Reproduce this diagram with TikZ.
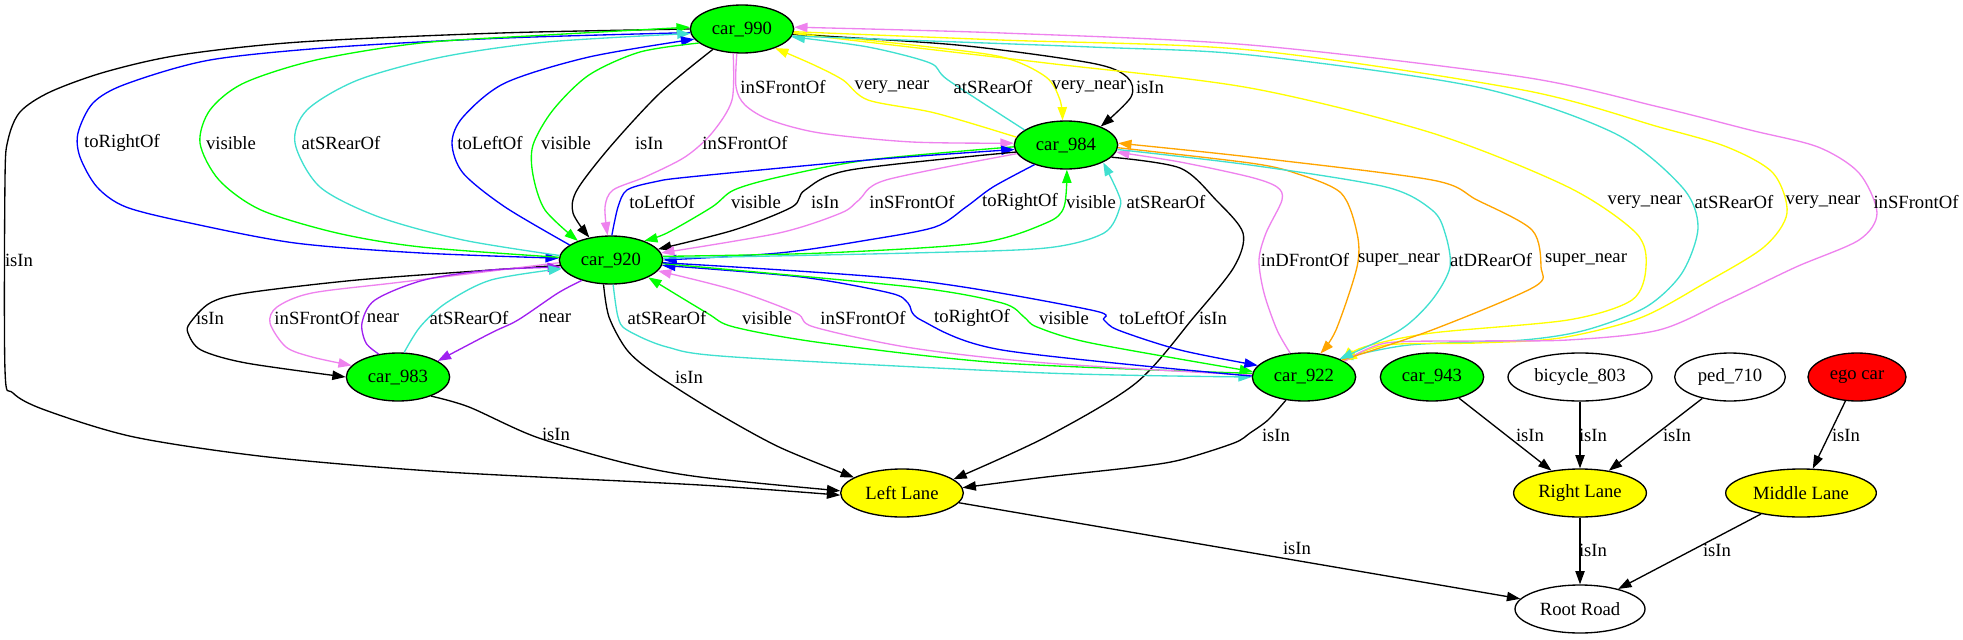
\documentclass[tikz,border=0pt]{standalone}
\usepackage{fontspec}
\setmainfont{Liberation Serif}
\usetikzlibrary{shapes.geometric,arrows.meta}
\definecolor{gvgreen}{RGB}{0,255,0}
\definecolor{gvblue}{RGB}{0,0,255}
\definecolor{gvturq}{RGB}{64,224,208}
\definecolor{gvviolet}{RGB}{238,130,238}
\definecolor{gvyellow}{RGB}{255,255,0}
\definecolor{gvorange}{RGB}{255,165,0}
\definecolor{gvpurple}{RGB}{160,32,240}
\definecolor{gvred}{RGB}{255,0,0}
\begin{document}
\begin{tikzpicture}[x=0.75pt,y=-0.75pt,
 every node/.style={font=\fontsize{14}{16}\selectfont},
 obj/.style={ellipse, draw=black, line width=1pt, minimum height=36pt, inner sep=0pt},
 car/.style={obj, fill=gvgreen, minimum width=77.5pt},
 lane/.style={obj, fill=gvyellow},
 plainobj/.style={obj, fill=white},
 e/.style={line width=1pt, -{Triangle[length=10pt,width=7pt]}},
 lb/.style={inner sep=0pt}
]
\useasboundingbox (0,0) rectangle (1963,639);
% nodes
\node[car] (car990) at (742,29) {car\_990};
\node[car] (car984) at (1066,145) {car\_984};
\node[car] (car920) at (611,260) {car\_920};
\node[car] (car983) at (398,377) {car\_983};
\node[car] (car922) at (1304,377) {car\_922};
\node[car] (car943) at (1432,377) {car\_943};
\node[plainobj, minimum width=108pt] (bike) at (1580,377) {bicycle\_803};
\node[plainobj, minimum width=83pt] (ped) at (1730,377) {ped\_710};
\node[obj, fill=gvred, minimum width=73.5pt] (ego) at (1857,377) {ego car};
\node[lane, minimum width=92pt] (leftlane) at (902,493) {Left Lane};
\node[lane, minimum width=99.6pt] (rightlane) at (1580,493) {Right Lane};
\node[lane, minimum width=113pt] (midlane) at (1801,493) {Middle Lane};
\node[plainobj, minimum width=97.5pt] (root) at (1580,609) {Root Road};

% car990 -> Left Lane
\draw[e] plot[smooth] coordinates {(car990.180) (500,33) (300,42) (180,55) (105,72) (50,92) (20,112) (8,140) (5,180) (5,370) (13,393) (45,410) (134,437) (268,457) (446,472) (700,485) (leftlane.182)};
% left loops car990 <-> car920
\draw[e,gvblue] plot[smooth] coordinates {(car990.184) (505,38) (337,47) (210,60) (126,84) (93,103) (78,133) (80,157) (97,187) (126,207) (190,223) (295,243) (421,253) (car920.178)};
\draw[e,gvgreen] plot[smooth] coordinates {(car920.177) (421,247) (337,233) (261,210) (219,180) (200,143) (210,110) (244,83) (316,60) (421,43) (547,35) (car990.178)};
\draw[e,gvturq] plot[smooth] coordinates {(car920.175) (463,240) (379,217) (320,187) (295,143) (307,110) (358,80) (442,57) (547,42) (car990.185)};
\draw[e,gvblue] plot[smooth] coordinates {(car920.160) (505,207) (463,173) (452,143) (463,117) (505,83) (589,57) (car990.192)};
\draw[e,gvgreen] plot[smooth] coordinates {(car990.198) (640,52) (589,75) (553,110) (533,145) (533,175) (545,210) (car920.150)};
\draw[e] plot[smooth] coordinates {(car990.215) (660,93) (610,147) (577,190) (573,213) (car920.134)};
\draw[e,gvviolet] plot[smooth] coordinates {(car990.250) (732,100) (712,133) (685,157) (645,177) (613,190) (605,207) (car920.98)};
% car990 <-> car984
\draw[e,gvviolet] plot[smooth] coordinates {(car990.258) (736,87) (745,105) (770,120) (820,133) (912,142) (car984.178)};
\draw[e,gvyellow] plot[smooth] coordinates {(car984.171) (935,113) (868,100) (843,80) (814,65) (car990.330)};
\draw[e,gvturq] plot[smooth] coordinates {(car984.160) (948,80) (930,63) (868,47) (car990.351)};
\draw[e,gvyellow] plot[smooth] coordinates {(car990.356) (912,45) (1002,57) (1046,77) (1060,100) (car984.98)};
\draw[e] plot[smooth] coordinates {(car990.354) (957,45) (1091,63) (1127,77) (1131,97) (car984.28)};
% car990 <-> car922
\draw[e,gvyellow] plot[smooth] coordinates {(car990.355) (1046,63) (1250,88) (1432,133) (1568,187) (1636,233) (1646,267) (1632,300) (1568,320) (1432,333) (1364,347) (car922.24)};
\draw[e,gvturq] plot[smooth] coordinates {(car990.352) (1091,47) (1250,55) (1477,87) (1614,133) (1682,187) (1698,227) (1682,273) (1646,307) (1586,330) (1523,340) (1409,345) (car922.27)};
\draw[e,gvyellow] plot[smooth] coordinates {(car990.357) (1000,40) (1250,50) (1523,90) (1659,127) (1727,147) (1773,173) (1787,213) (1764,247) (1705,283) (1640,318) (1560,338) (1477,343) (1386,345) (car922.22)};
\draw[e,gvviolet] plot[smooth] coordinates {(car922.21) (1386,343) (1477,341) (1568,340) (1659,330) (1727,300) (1796,267) (1859,240) (1877,213) (1859,173) (1818,147) (1750,130) (1659,107) (1523,77) (1250,45) (1002,33) (car990.2)};
% car984 <-> car920
\draw[e,gvgreen] plot[smooth] coordinates {(car984.182) (868,160) (779,177) (734,190) (712,207) (667,233) (car920.30)};
\draw[e,gvblue] plot[smooth] coordinates {(car920.88) (618,207) (627,190) (654,182) (689,177) (868,160) (car984.185)};
\draw[e] plot[smooth] coordinates {(car984.188) (850,170) (805,190) (792,207) (734,230) (car920.13)};
\draw[e,gvviolet] plot[smooth] coordinates {(car984.190) (886,180) (859,200) (841,213) (779,233) (car920.8)};
\draw[e,gvblue] plot[smooth] coordinates {(car984.212) (993,187) (966,207) (935,227) (868,240) (779,253) (car920.0)};
\draw[e,gvgreen] plot[smooth] coordinates {(car920.4) (823,253) (979,243) (1046,223) (1064,207) (car984.272)};
\draw[e,gvturq] plot[smooth] coordinates {(car920.2) (912,253) (1046,248) (1104,233) (1120,207) (1118,193) (car984.335)};
% car984 -> Left Lane
\draw[e] plot[smooth] coordinates {(car984.345) (1180,168) (1216,200) (1243,233) (1234,267) (1194,317) (1136,383) (1046,437) (leftlane.15)};
% car984 <-> car922
\draw[e,gvviolet] plot[smooth] coordinates {(car922.120) (1277,330) (1264,293) (1259,260) (1266,233) (1282,200) (1277,187) (1250,177) (1180,162) (car984.352)};
\draw[e,gvorange] plot[smooth] coordinates {(car984.357) (1250,163) (1295,173) (1341,193) (1357,233) (1357,267) (1336,330) (car922.55)};
\draw[e,gvorange] plot[smooth] coordinates {(car922.24) (1432,330) (1534,287) (1541,267) (1532,230) (1477,200) (1432,180) (1250,157) (car984.2)};
\draw[e,gvturq] plot[smooth] coordinates {(car984.355) (1250,165) (1386,187) (1432,210) (1445,233) (1450,267) (1432,300) (1400,330) (car922.27)};
% car920 <-> car983
\draw[e] plot[smooth] coordinates {(car920.186) (491,270) (357,280) (246,293) (210,303) (190,323) (188,333) (201,350) (246,363) (car983.180)};
\draw[e,gvviolet] plot[smooth] coordinates {(car920.183) (402,282) (312,293) (277,307) (270,323) (286,347) (312,357) (car983.166)};
\draw[e,gvpurple] plot[smooth] coordinates {(car983.130) (366,343) (362,323) (375,300) (424,280) (491,270) (car920.188)};
\draw[e,gvpurple] plot[smooth] coordinates {(car920.215) (558,293) (518,320) (491,333) (car983.22)};
\draw[e,gvturq] plot[smooth] coordinates {(car983.76) (420,327) (446,303) (491,280) (car920.190)};
% car983 -> Left Lane, car920 -> Left Lane
\draw[e] plot[smooth] coordinates {(car983.330) (469,407) (536,437) (625,463) (700,477) (leftlane.178)};
\draw[e] plot[smooth] coordinates {(car920.253) (609,317) (627,350) (654,373) (712,410) (779,447) (leftlane.162)};
% car920 <-> car922
\draw[e,gvturq] plot[smooth] coordinates {(car920.275) (618,317) (627,330) (667,347) (734,357) (1046,373) (car922.180)};
\draw[e,gvgreen] plot[smooth] coordinates {(car922.176) (1002,363) (823,343) (734,327) (707,313) (car920.335)};
\draw[e,gvviolet] plot[smooth] coordinates {(car922.178) (1046,363) (912,348) (814,327) (796,313) (734,290) (car920.347)};
\draw[e,gvblue] plot[smooth] coordinates {(car922.179) (1002,350) (921,320) (908,303) (890,293) (801,277) (car920.354)};
\draw[e,gvgreen] plot[smooth] coordinates {(car920.356) (912,287) (1002,303) (1024,317) (1037,327) (1091,343) (car922.174)};
\draw[e,gvblue] plot[smooth] coordinates {(car920.357) (912,280) (1091,310) (1104,320) (1118,330) (1180,350) (car922.166)};
% car922 -> Left Lane
\draw[e] plot[smooth] coordinates {(car922.232) (1268,420) (1250,433) (1234,443) (1180,460) (1136,467) (1046,477) (leftlane.5)};
% straight edges
\draw[e] (leftlane) -- (root);
\draw[e] (car943) -- (rightlane);
\draw[e] (bike) -- (rightlane);
\draw[e] (ped) -- (rightlane);
\draw[e] (ego) -- (midlane);
\draw[e] (rightlane) -- (root);
\draw[e] (midlane) -- (root);

% labels
\node[lb] (t01) at (19,260) {isIn};
\node[lb] (t02) at (783,87) {inSFrontOf};
\node[lb] (t03) at (892,87) {very\_near};
\node[lb] (t04) at (993,87) {atSRearOf};
\node[lb] (t05) at (1089,87) {very\_near};
\node[lb] (t06) at (1150,87) {isIn};
\node[lb] (t07) at (122,143) {toRightOf};
\node[lb] (t08) at (231,143) {visible};
\node[lb] (t09) at (341,143) {atSRearOf};
\node[lb] (t10) at (490,143) {toLeftOf};
\node[lb] (t11) at (566,143) {visible};
\node[lb] (t12) at (649,143) {isIn};
\node[lb] (t13) at (745,143) {inSFrontOf};
\node[lb] (t14) at (662,202) {toLeftOf};
\node[lb] (t15) at (756,202) {visible};
\node[lb] (t16) at (825,202) {isIn};
\node[lb] (t17) at (912,202) {inSFrontOf};
\node[lb] (t18) at (1020,202) {toRightOf};
\node[lb] (t19) at (1091,202) {visible};
\node[lb] (t20) at (1166,202) {atSRearOf};
\node[lb] (t21) at (1645,202) {very\_near};
\node[lb] (t22) at (1734,202) {atSRearOf};
\node[lb] (t23) at (1823,202) {very\_near};
\node[lb] (t24) at (1916,202) {inSFrontOf};
\node[lb] (t25) at (1305,260) {inDFrontOf};
\node[lb] (t26) at (1399,260) {super\_near};
\node[lb] (t27) at (1491,260) {atDRearOf};
\node[lb] (t28) at (1586,260) {super\_near};
\node[lb] (t29) at (210,318) {isIn};
\node[lb] (t30) at (317,318) {inSFrontOf};
\node[lb] (t31) at (383,318) {near};
\node[lb] (t32) at (469,318) {atSRearOf};
\node[lb] (t33) at (555,318) {near};
\node[lb] (t34) at (667,318) {atSRearOf};
\node[lb] (t35) at (767,318) {visible};
\node[lb] (t36) at (863,318) {inSFrontOf};
\node[lb] (t37) at (972,318) {toRightOf};
\node[lb] (t38) at (1064,318) {visible};
\node[lb] (t39) at (1152,318) {toLeftOf};
\node[lb] (t40) at (1213,318) {isIn};
\node[lb] (t41) at (689,377) {isIn};
\node[lb] (t42) at (556,434) {isIn};
\node[lb] (t43) at (1276,435) {isIn};
\node[lb] (t44) at (1530,435) {isIn};
\node[lb] (t45) at (1593,435) {isIn};
\node[lb] (t46) at (1677,435) {isIn};
\node[lb] (t47) at (1846,435) {isIn};
\node[lb] (t48) at (1297,548) {isIn};
\node[lb] (t49) at (1593,550) {isIn};
\node[lb] (t50) at (1717,550) {isIn};
\end{tikzpicture}
\end{document}
